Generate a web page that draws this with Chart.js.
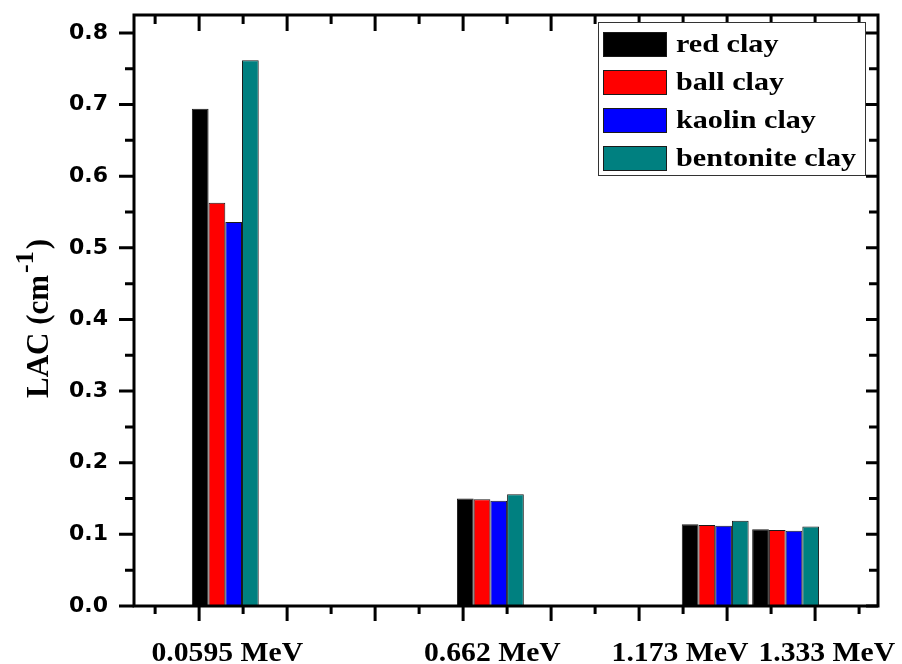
<!DOCTYPE html>
<html>
<head>
<meta charset="utf-8">
<script src="https://cdn.jsdelivr.net/npm/chart.js@4.4.1/dist/chart.umd.min.js"></script>
<style>
  html, body { margin: 0; padding: 0; background: #ffffff; }
  #wrap { width: 902px; height: 664px; }
</style>
</head>
<body>
<div id="wrap"><canvas id="c" width="902" height="664"></canvas></div>
<script>
// ---- data ----
const energies = [0.0595, 0.662, 1.173, 1.333];               // MeV (x positions)
const energyLabels = ['0.0595 MeV', '0.662 MeV', '1.173 MeV', '1.333 MeV'];
const seriesNames = ['red clay', 'ball clay', 'kaolin clay', 'bentonite clay'];
const redClay       = [0.694, 0.150, 0.114, 0.107];
const ballClay      = [0.563, 0.149, 0.113, 0.106];
const kaolinClay    = [0.536, 0.147, 0.112, 0.105];
const bentoniteClay = [0.762, 0.156, 0.119, 0.111];
const yTickValues = [0.0, 0.1, 0.2, 0.3, 0.4, 0.5, 0.6, 0.7, 0.8];
const yTitle = ['LAC (cm', '-1', ')'];

const seriesValues = [redClay, ballClay, kaolinClay, bentoniteClay];
const seriesColors = ['#000000', '#ff0000', '#0000ff', '#008080'];

const datasets = seriesNames.map((name, i) => ({
  label: name,
  data: energies.map((e, j) => ({ x: e, y: seriesValues[i][j] })),
  backgroundColor: seriesColors[i],
  borderColor: '#1a1a1a',
  borderWidth: 1,
  borderSkipped: 'start',
  categoryPercentage: 0.95,
  barPercentage: 1.0
}));

const SERIF = '"Liberation Serif", "Times New Roman", serif';

// frame, tick marks, custom labels, legend, y-title
const decorPlugin = {
  id: 'decor',
  afterDraw(chart) {
    const ctx = chart.ctx;
    const a = chart.chartArea;
    const xs = chart.scales.x, ys = chart.scales.y;
    ctx.save();
    ctx.strokeStyle = '#000';
    ctx.lineCap = 'butt';

    // x tick marks (bottom outward, top inward)
    ctx.lineWidth = 3;
    for (let k = -1; k <= 15; k++) {
      const v = k / 10;
      const px = xs.getPixelForValue(v);
      if (px < a.left + 2 || px > a.right - 2) continue;
      const major = (k % 2 === 0);
      const lb = major ? 15 : 8;
      const lt = major ? 16 : 9;
      ctx.beginPath();
      ctx.moveTo(px, a.bottom); ctx.lineTo(px, a.bottom + lb);
      ctx.moveTo(px, a.top); ctx.lineTo(px, a.top + lt);
      ctx.stroke();
    }
    // y tick marks (left outward, right inward)
    for (let k = 0; k <= 16; k++) {
      const v = k / 20;
      const py = ys.getPixelForValue(v);
      if (py < a.top + 2) continue;
      const major = (k % 2 === 0);
      const ll = major ? 15 : 9;
      const lr = major ? 12 : 9;
      ctx.beginPath();
      ctx.moveTo(a.left, py); ctx.lineTo(a.left - ll, py);
      ctx.moveTo(a.right, py); ctx.lineTo(a.right - lr, py);
      ctx.stroke();
    }
    // frame
    ctx.lineWidth = 3;
    ctx.strokeRect(a.left, a.top, a.right - a.left, a.bottom - a.top);

    // x category labels (pushed apart where they would collide)
    ctx.fillStyle = '#000';
    ctx.font = 'bold 28px ' + SERIF;
    const sx = 1.06;
    const items = energies.map((e, i) => {
      const w = ctx.measureText(energyLabels[i]).width * sx;
      const c = xs.getPixelForValue(e) + 2;
      return { text: energyLabels[i], l: c - w / 2, w };
    });
    for (let i = 0; i < items.length - 1; i++) {
      const p = items[i], q = items[i + 1];
      if (p.l + p.w > q.l) {
        const mid = (xs.getPixelForValue(energies[i]) + xs.getPixelForValue(energies[i + 1])) / 2;
        p.l = mid - 2 - p.w;
        q.l = mid + 8;
      }
    }
    ctx.textBaseline = 'alphabetic';
    ctx.textAlign = 'left';
    items.forEach(it => {
      ctx.save();
      ctx.translate(it.l, 661);
      ctx.scale(sx, 1);
      ctx.fillText(it.text, 0, 0);
      ctx.restore();
    });

    // y title with superscript
    ctx.save();
    ctx.translate(48, 398);
    ctx.rotate(-Math.PI / 2);
    ctx.font = 'bold 31px ' + SERIF;
    ctx.fillText(yTitle[0], 0, 0);
    let off = ctx.measureText(yTitle[0]).width + 2;
    ctx.font = 'bold 26px ' + SERIF;
    ctx.fillText(yTitle[1], off, -15);
    off += ctx.measureText(yTitle[1]).width + 2;
    ctx.font = 'bold 31px ' + SERIF;
    ctx.fillText(yTitle[2], off, 0);
    ctx.restore();

    // legend
    const bx = a.right - 280, by = a.top + 7, bw = 267, bh = 153;
    ctx.fillStyle = '#fff';
    ctx.fillRect(bx, by, bw, bh);
    ctx.lineWidth = 1;
    ctx.strokeStyle = '#333';
    ctx.strokeRect(bx + 0.5, by + 0.5, bw, bh);
    const lsx = 1.16;
    chart.data.datasets.forEach((ds, i) => {
      const ty = by + 10 + i * 38;
      ctx.fillStyle = ds.backgroundColor;
      ctx.fillRect(bx + 5, ty, 64, 25);
      ctx.strokeStyle = '#1a1a1a';
      ctx.lineWidth = 1;
      ctx.strokeRect(bx + 5.5, ty + 0.5, 63, 24);
      ctx.fillStyle = '#000';
      ctx.font = 'bold 26px ' + SERIF;
      ctx.save();
      ctx.translate(bx + 78, ty + 20);
      ctx.scale(lsx, 1);
      ctx.fillText(ds.label, 0, 0);
      ctx.restore();
    });
    ctx.restore();
  }
};

new Chart(document.getElementById('c'), {
  type: 'bar',
  data: { datasets },
  plugins: [decorPlugin],
  options: {
    responsive: false,
    devicePixelRatio: 1,
    animation: false,
    layout: { padding: { left: 0, right: 24, top: 15, bottom: 0 } },
    plugins: { legend: { display: false }, tooltip: { enabled: false } },
    scales: {
      x: {
        type: 'linear',
        min: -0.148,
        max: 1.543,
        offset: false,
        grid: { display: false, drawTicks: false },
        border: { display: false },
        ticks: { display: false },
        afterBuildTicks: (s) => { s.ticks = energies.map(v => ({ value: v })); },
        afterFit: (s) => { s.height = 58; s.paddingLeft = 0; s.paddingRight = 0; }
      },
      y: {
        type: 'linear',
        min: 0,
        max: 0.825,
        grid: { display: false, drawTicks: false },
        border: { display: false },
        afterBuildTicks: (s) => { s.ticks = yTickValues.map(v => ({ value: v })); },
        afterFit: (s) => { s.width = 134; s.paddingTop = 0; s.paddingBottom = 0; },
        ticks: {
          padding: 26,
          color: '#000',
          font: { family: '"DejaVu Sans"', weight: 'bold', size: 22 },
          callback: (v) => Number(v).toFixed(1)
        }
      }
    }
  }
});
</script>
</body>
</html>
